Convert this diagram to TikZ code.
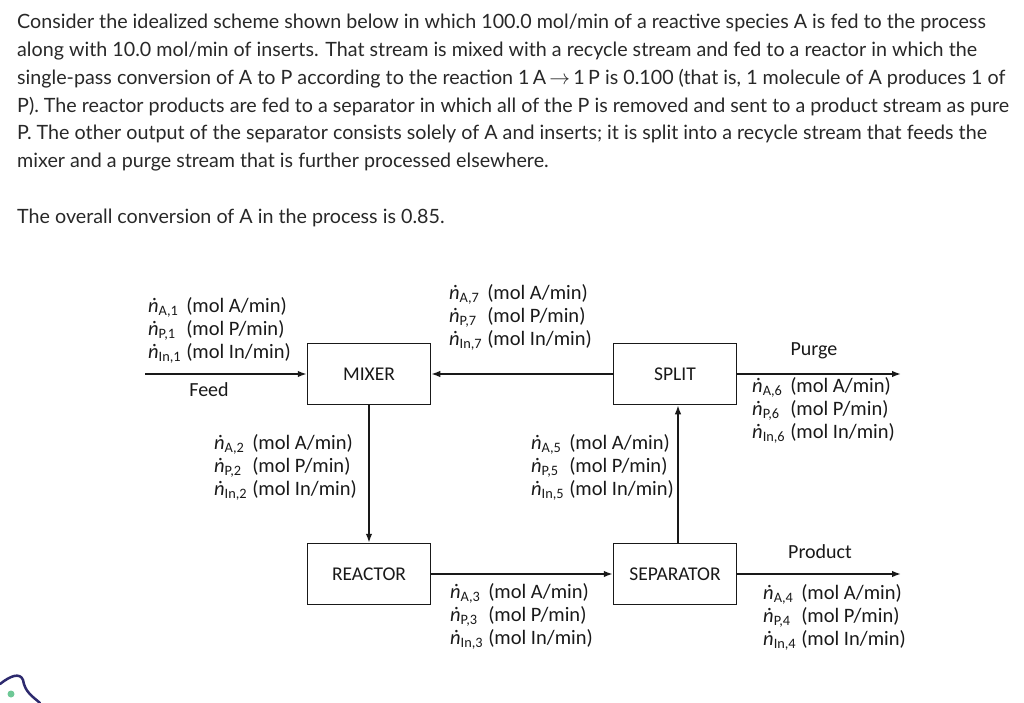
\documentclass[tikz,border=0pt]{standalone}
\usepackage{fontspec}
\setmainfont{Carlito}
\newfontfamily\latofont{Lato}
\usetikzlibrary{arrows.meta, positioning, calc}
\definecolor{mytext}{RGB}{40,40,40}
\definecolor{myline}{RGB}{25,25,25}
\definecolor{mylogo}{RGB}{45,42,110}
\definecolor{mygreen}{RGB}{110,200,150}
\tikzset{
  unit/.style={rectangle, draw=myline, line width=1.5pt,
    minimum width=123pt, minimum height=61pt, inner sep=0pt,
    font=\fontsize{19.5}{22}\selectfont, text=myline},
  arrow/.style={-{Latex[length=9pt,width=6.5pt]}, line width=1.5pt, color=myline},
  line/.style={line width=1.5pt, color=myline},
  flowlbl/.style={anchor=west, inner sep=0pt,
    font=\fontsize{20.5}{23}\selectfont, text=myline},
  streamname/.style={inner sep=0pt, font=\fontsize{20}{22}\selectfont, text=myline},
  para/.style={anchor=base west, inner sep=0pt,
    font=\latofont\fontsize{19.7}{22}\selectfont, text=mytext}
}
\newcommand{\flowrate}[2]{\textit{ṅ}\textsubscript{#1,#2}}
\newcommand{\flowtab}[1]{\begin{tabular}{@{}l@{\hspace{5pt}}l@{}}
  \flowrate{A}{#1} & (mol A/min)\\
  \flowrate{P}{#1} & (mol P/min)\\
  \flowrate{In}{#1} & (mol In/min)
\end{tabular}}

\begin{document}
\begin{tikzpicture}[x=1pt, y=-1pt]
  \useasboundingbox (0,0) rectangle (1024,703);

  % Problem statement
  \node[para] (l1) at (17,29) {Consider the idealized scheme shown below in which 100.0 mol/min of a reactive species A is fed to the process};
  \node[para] (l2) at (17,57) {along with 10.0 mol/min of inserts. That stream is mixed with a recycle stream and fed to a reactor in which the};
  \node[para] (l3) at (17,85) {single-pass conversion of A to P according to the reaction 1\,A\,$\rightarrow$\,1\,P is 0.100 (that is, 1 molecule of A produces 1 of};
  \node[para] (l4) at (17,113) {P). The reactor products are fed to a separator in which all of the P is removed and sent to a product stream as pure};
  \node[para] (l5) at (17,140) {P. The other output of the separator consists solely of A and inserts; it is split into a recycle stream that feeds the};
  \node[para] (l6) at (17,168) {mixer and a purge stream that is further processed elsewhere.};
  \node[para] (l7) at (17,224) {The overall conversion of A in the process is 0.85.};

  % Process units
  \node[unit] (mixer) at (369,374) {MIXER};
  \node[unit] (split) at (675,374) {SPLIT};
  \node[unit] (reactor) at (369,574) {REACTOR};
  \node[unit] (separator) at (675,574) {SEPARATOR};
  \coordinate (feedin) at (145,374);
  \coordinate (purgeout) at (901,374);
  \coordinate (productout) at (901,574);

  % Streams
  \draw[arrow] (feedin) -- (mixer);
  \draw[arrow] (mixer) -- (reactor);
  \draw[arrow] (reactor) -- (separator);
  \draw[arrow] ([xshift=3pt]separator.north) -- ([xshift=3pt]split.south);
  \draw[arrow] (split) -- (mixer);
  \draw[arrow] (split) -- (purgeout);
  \draw[arrow] (separator) -- (productout);

  % Stream labels
  \node[flowlbl] (s1) at (148,331) {\flowtab{1}};
  \node[streamname] (feed) at (209,390) {Feed};
  \node[flowlbl] (s7) at (449,318) {\flowtab{7}};
  \node[streamname] (purge) at (814,351) {Purge};
  \node[flowlbl] (s6) at (752,411) {\flowtab{6}};
  \node[flowlbl] (s2) at (214,468) {\flowtab{2}};
  \node[flowlbl] (s5) at (531,468) {\flowtab{5}};
  \node[flowlbl] (s3) at (450,617) {\flowtab{3}};
  \node[streamname] (product) at (820,552) {Product};
  \node[flowlbl] (s4) at (763,618) {\flowtab{4}};

  % corner icon
  \draw[mylogo, line width=2.5pt, line cap=round] (0,684) .. controls (10,676) and (20,672) .. (23,680) .. controls (25,692) and (32,696) .. (40,703);
  \fill[mygreen] (11,694) circle (3.5);
\end{tikzpicture}
\end{document}
